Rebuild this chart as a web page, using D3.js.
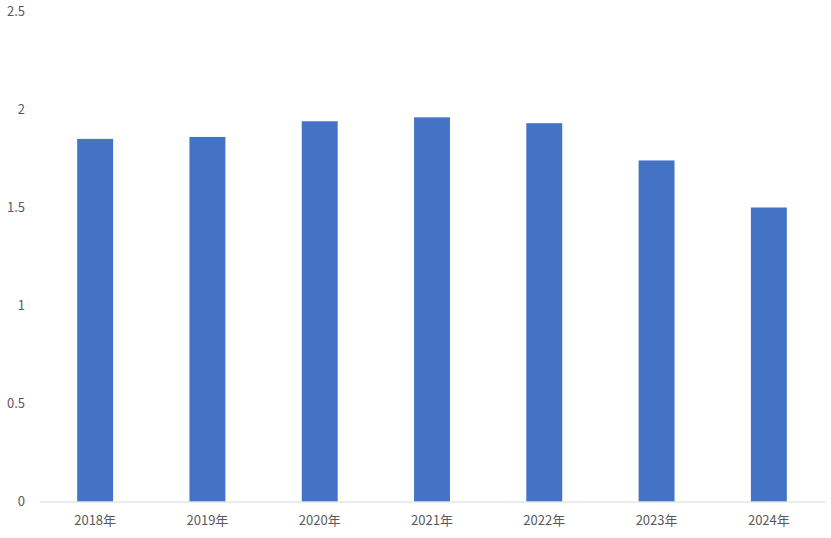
<!DOCTYPE html>
<html>
<head>
<meta charset="utf-8">
<script src="https://cdn.jsdelivr.net/npm/d3@7"></script>
<style>
  body { margin: 0; background: #fff; }
  text { font-family: "Noto Sans CJK SC", "Open Sans", sans-serif; fill: #595959; font-size: 13px; }
</style>
</head>
<body>
<div id="chart"></div>
<script>
  'use strict'

  var years = ['2018年', '2019年', '2020年', '2021年', '2022年', '2023年', '2024年']
  var values = [1.85, 1.86, 1.94, 1.96, 1.93, 1.74, 1.50]
  var yTicks = [0, 0.5, 1, 1.5, 2, 2.5]

  var width = 831, height = 538
  var margin = { top: 11.5, right: 6, bottom: 36.5, left: 39 }

  var svg = d3.select('#chart')
    .append('svg')
    .attr('width', width)
    .attr('height', height)

  var x = d3.scaleBand()
    .domain(years)
    .range([margin.left, width - margin.right])
    .paddingInner(0.68)
    .paddingOuter(0.34)

  var y = d3.scaleLinear()
    .domain([0, 2.5])
    .range([height - margin.bottom, margin.top])

  // bars
  svg.append('g')
    .selectAll('rect')
    .data(values)
    .enter()
    .append('rect')
    .attr('x', function (d, i) { return x(years[i]) })
    .attr('y', function (d) { return y(d) })
    .attr('width', x.bandwidth())
    .attr('height', function (d) { return y(0) - y(d) })
    .attr('fill', '#4472C4')

  // y axis labels
  var yAxis = svg.append('g')
    .attr('transform', 'translate(25,0)')
    .call(d3.axisLeft(y).tickValues(yTicks).tickSize(0).tickPadding(0).tickFormat(d3.format('')))
  yAxis.select('.domain').remove()
  yAxis.selectAll('text').style('font-size', '13px').attr('fill', '#595959')

  // x axis
  var xAxis = svg.append('g')
    .attr('transform', 'translate(0,' + y(0) + ')')
    .call(d3.axisBottom(x).tickSize(0).tickPadding(14))
  xAxis.select('.domain').attr('stroke', '#d9d9d9').attr('stroke-width', 1)
  xAxis.selectAll('text').style('font-size', '13px').attr('fill', '#595959')
</script>
</body>
</html>
